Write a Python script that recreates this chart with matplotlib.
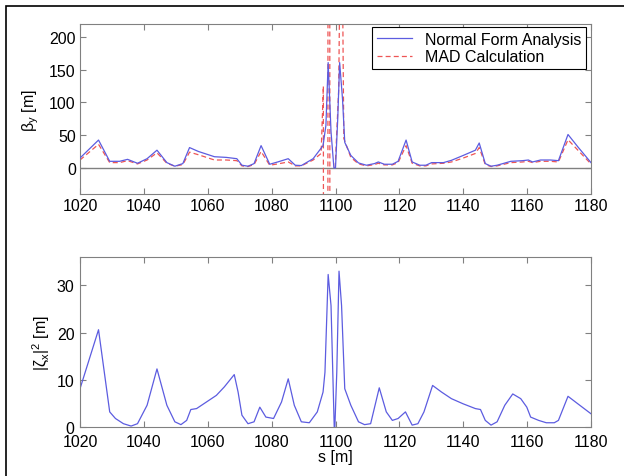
import numpy as np
import matplotlib
matplotlib.use('Agg')
import matplotlib.pyplot as plt
from matplotlib.patches import Rectangle

plt.rcParams['font.family'] = ['Liberation Sans', 'DejaVu Sans']
plt.rcParams['mathtext.fontset'] = 'dejavusans'
plt.rcParams['mathtext.default'] = 'regular'

# beta_y, normal form analysis
s_nf = [1020, 1025.8, 1029.3, 1032.4, 1034.9, 1038, 1041, 1044.1, 1047.2, 1049.7,
        1052.2, 1054.3, 1057.1, 1062.1, 1065.8, 1069.1, 1070.7, 1072.6, 1074.5, 1076.7,
        1079.4, 1081.9, 1085.2, 1087.4, 1089.3, 1093, 1096.1, 1097, 1097.7, 1098.6,
        1099.5, 1100, 1100.7, 1101.3, 1102.2, 1102.9, 1104.8, 1107.2, 1109.7, 1112.2,
        1113.4, 1115.3, 1117.8, 1119.6, 1122.1, 1124, 1126.4, 1128.3, 1130.1, 1133.8,
        1136.3, 1140, 1143.8, 1145, 1146.9, 1148.7, 1150.6, 1154.9, 1158.6, 1160.4,
        1161.7, 1164.2, 1167.3, 1169.8, 1172.8, 1175.9, 1180]
beta_nf = [15, 42.5, 10, 10, 13, 7, 14, 27, 8, 2.5,
           6.5, 31, 25, 17, 16, 14, 4, 2.5, 6.5, 34,
           5.5, 9, 14, 4, 3.5, 14, 34, 65, 161, 55,
           0, 0, 75, 161, 105, 39, 19, 7.5, 4, 6.5,
           9, 5.5, 5.5, 10, 42.5, 9, 4, 4, 8, 8,
           11.5, 19, 27, 38, 6.5, 2.5, 4, 10, 11, 12,
           9, 12, 12, 11, 51, 32, 8]

# beta_y, MAD calculation (nan = gap, large values run off the axes)
s_mad = [1020, 1025.8, 1029.3, 1032.4, 1034.9, 1038, 1041, 1044.1, 1047.2, 1049.7,
         1052.2, 1054.3, 1057.1, 1062.1, 1065.8, 1069.1, 1070.7, 1072.6, 1074.5, 1076.7,
         1079.4, 1081.9, 1085.2, 1087.4, 1089.3, 1093, 1095.5, 1096.2, 1096.25, 1097.6,
         1097.65, 1098.2, 1098.25, 1099.0, 1099.9, 1101.0, 1101.6, 1102.0, 1102.6, 1104.8,
         1107.2, 1109.7, 1112.2, 1113.4, 1115.3, 1117.8, 1119.6, 1122.1, 1124, 1126.4,
         1128.3, 1130.1, 1133.8, 1136.3, 1140, 1143.8, 1145, 1146.9, 1148.7, 1150.6,
         1154.9, 1158.6, 1160.4, 1161.7, 1164.2, 1167.3, 1169.8, 1172.8, 1175.9, 1180]
beta_mad = [12, 36, 8, 8, 11, 6, 12, 23, 7, 2.5,
            5, 24, 20, 12, 12, 11, 3, 2, 5, 25,
            4, 6, 9, 3, 3, 12, 22, 125, -300, -300,
            400, 400, -300, np.nan, 0, 120, 400, 400, 45, 16,
            6, 3, 5, 7, 4.5, 4.5, 8, 34, 7, 3,
            3, 6, 7, 9, 15, 22, 31, 5, 2, 3,
            8, 9, 10, 8, 10, 10, 9, 43, 27, 6]

# |zeta_x|^2
s_z = [1020, 1025.8, 1029.3, 1031.1, 1033.6, 1036, 1038, 1041, 1044.1, 1047.2,
       1049.7, 1051.6, 1053.4, 1054.7, 1056.5, 1059.6, 1062.7, 1065.2, 1068.3, 1069.5,
       1070.7, 1072.6, 1074.5, 1076.3, 1078.2, 1080.6, 1083.1, 1085.2, 1087.1, 1089.3,
       1091.8, 1094.3, 1096.1, 1096.7, 1097.7, 1098.6, 1099.6, 1099.8, 1100.4, 1101.1,
       1101.9, 1102.9, 1104.8, 1107.2, 1109.1, 1111, 1113.7, 1115.9, 1117.8, 1119.6,
       1121.9, 1124, 1125.8, 1127.7, 1130.4, 1133.2, 1136.3, 1140, 1143.8, 1145.4,
       1146.9, 1148.7, 1150.6, 1153, 1155.5, 1158, 1159.9, 1161.1, 1163.6, 1166,
       1168.5, 1169.8, 1172.8, 1175.9, 1180]
zeta = [8.1, 20.6, 3.2, 1.8, 0.7, 0.2, 0.7, 4.6, 12.3, 4.6,
        1.1, 0.5, 1.4, 3.7, 3.9, 5.3, 6.7, 8.5, 11.1, 7.4,
        2.5, 0.7, 1.1, 4.2, 2.1, 1.8, 5.3, 10.2, 4.6, 1.1,
        0.9, 3.2, 7.4, 11.6, 32.3, 25.7, 0, 0, 11.6, 33,
        25.7, 8.1, 4.6, 1.1, 0.5, 0.7, 8.3, 3.2, 1.4, 1.8,
        3.2, 0.4, 0.7, 3.2, 8.8, 7.4, 6, 4.9, 3.9, 3.7,
        1.4, 0.4, 1.1, 4.6, 7, 6, 4.2, 2.1, 1.4, 0.9,
        0.9, 1.4, 6.5, 4.9, 2.8]

xticks = [1020, 1040, 1060, 1080, 1100, 1120, 1140, 1160, 1180]

W, H = 624, 477
fig = plt.figure(figsize=(W / 100, H / 100), dpi=100)
ax1 = fig.add_axes([80 / W, 1 - 195 / H, 511 / W, 170 / H])
ax2 = fig.add_axes([80 / W, 1 - 428 / H, 511 / W, 170 / H])

blue = '#5c5ce0'
red = '#ee5555'

ax1.axhline(0, color='#808080', linewidth=1.0, zorder=1)
ax1.plot(s_nf, beta_nf, color=blue, linewidth=0.9, label='Normal Form Analysis', zorder=3)
ax1.plot(s_mad, beta_mad, color=red, linewidth=0.9, linestyle=(0, (4, 2.5)),
         label='MAD Calculation', zorder=2)
ax1.set_xlim(1020, 1180)
ax1.set_ylim(-40, 220)
ax1.set_yticks([0, 50, 100, 150, 200])
ax1.set_xticks(xticks)
ax1.set_ylabel(r'$\beta_y$ [m]', fontsize=11.5, labelpad=6)
leg = ax1.legend(loc='upper right', bbox_to_anchor=(586 / W, 1 - 28 / H),
                 bbox_transform=fig.transFigure, borderaxespad=0, fancybox=False,
                 framealpha=1, edgecolor='black', fontsize=11.5, handlelength=2.2,
                 borderpad=0.3, labelspacing=0.15)
leg.get_frame().set_linewidth(0.8)

ax2.plot(s_z, zeta, color=blue, linewidth=0.9)
ax2.set_xlim(1020, 1180)
ax2.set_ylim(0, 36)
ax2.set_yticks([0, 10, 20, 30])
ax2.set_xticks(xticks)
ax2.set_ylabel(r'$|\zeta_x|^2$ [m]', fontsize=11.5)
ax2.set_xlabel('s [m]', fontsize=11.5, labelpad=0)

for ax in [ax1, ax2]:
    ax.tick_params(direction='in', top=True, right=True, length=4, width=0.8,
                   color='#808080', labelsize=11.5, pad=3)
    for sp in ax.spines.values():
        sp.set_color('#808080')
        sp.set_linewidth(0.8)
ax2.tick_params(axis='x', pad=5)
ax2.tick_params(axis='y', pad=4)

# frame around the figure (only left and top edges are inside the picture)
fig.add_artist(Rectangle((6 / W, -0.5), 2, 1.5 - 7 / H, transform=fig.transFigure,
                         fill=False, edgecolor='black', linewidth=1.2, clip_on=False))

fig.savefig('out.png', dpi=100)
